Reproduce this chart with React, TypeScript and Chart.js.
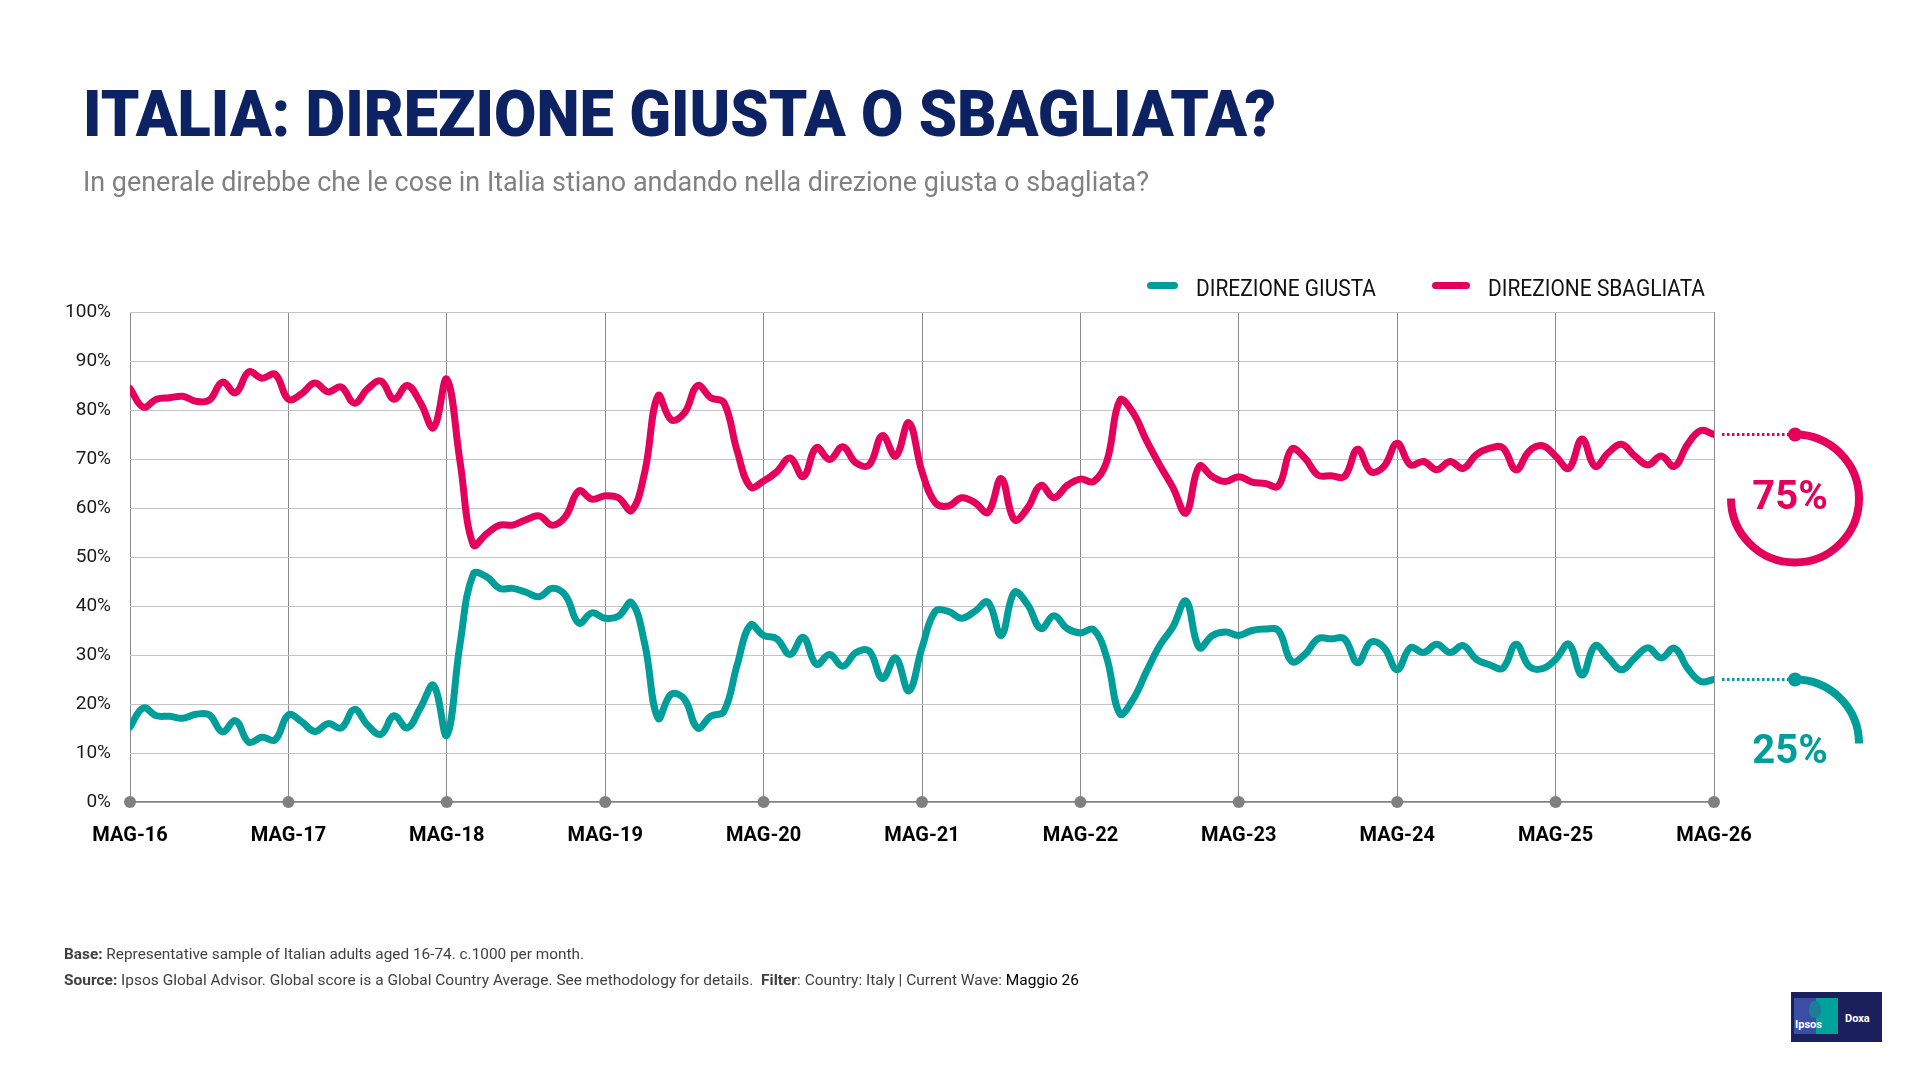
import React, { useEffect, useLayoutEffect, useRef } from 'react';
import { Chart, registerables } from 'chart.js';

Chart.register(...registerables);

// ---------- DATA ----------
const yearLabels = ['MAG-16', 'MAG-17', 'MAG-18', 'MAG-19', 'MAG-20', 'MAG-21', 'MAG-22', 'MAG-23', 'MAG-24', 'MAG-25', 'MAG-26'];
const monthsPerYear = 12;
const yTicks = [0, 10, 20, 30, 40, 50, 60, 70, 80, 90, 100];
const seriesNames = ['DIREZIONE GIUSTA', 'DIREZIONE SBAGLIATA'];

// Monthly values, May 2016 -> May 2026
const giusta = [
  15.3, 19.2, 17.6, 17.5, 17.1, 17.9, 17.8, 14.3, 16.6, 12.2, 13.2, 12.7,
  17.8, 16.4, 14.4, 16, 15.1, 18.9, 15.7, 13.8, 17.6, 15.1, 19.2, 23.8,
  13.6, 32.2, 46.5, 46, 43.6, 43.6, 42.8, 41.9, 43.6, 42.1, 36.5, 38.6,
  37.5, 37.9, 40.7, 32.2, 17.1, 22, 21, 15.1, 17.5, 18.5, 28, 36.1,
  34, 33.3, 30.1, 33.6, 28.1, 30.1, 27.7, 30.5, 30.8, 25.2, 29.4, 22.7,
  31.5, 38.9, 38.9, 37.5, 38.9, 40.8, 34, 42.8, 40.3, 35.4, 38, 35.4,
  34.5, 35.2, 29.4, 18, 21, 26.6, 31.9, 35.7, 41, 31.5, 34, 34.7,
  34, 35, 35.3, 35, 28.7, 30.1, 33.3, 33.3, 33.3, 28.4, 32.6, 31.5,
  27, 31.5, 30.5, 32.2, 30.5, 31.9, 29.1, 28, 27.3, 32.2, 27.7, 27.2,
  29.1, 32.2, 25.9, 31.9, 29.4, 27, 29.4, 31.5, 29.4, 31.4, 27.3, 24.6,
  25,
];
const sbagliata = [
  84.4, 80.6, 82.2, 82.5, 82.8, 81.8, 82, 85.7, 83.5, 87.8, 86.5, 87.3,
  82.2, 83.3, 85.5, 83.7, 84.7, 81.4, 84.3, 85.9, 82.2, 85, 81.5, 76.4,
  86.3, 69.5, 52.5, 54.7, 56.5, 56.5, 57.6, 58.4, 56.5, 58.3, 63.5, 61.8,
  62.5, 62.1, 59.5, 67.4, 82.9, 78, 79.4, 85, 82.5, 81.5, 71.6, 64.3,
  65.5, 67.4, 70.2, 66.4, 72.3, 69.9, 72.5, 69.2, 68.8, 74.8, 70.6, 77.4,
  67.4, 61.1, 60.4, 62.1, 61.1, 59.1, 66, 57.6, 60, 64.6, 62.1, 64.6,
  65.9, 65.4, 69.5, 82, 79.4, 73.8, 68.8, 64.2, 59, 68.5, 66.4, 65.4,
  66.4, 65.3, 65, 64.5, 72, 70.2, 66.7, 66.6, 66.4, 72, 67.4, 68.5,
  73.2, 68.8, 69.5, 67.8, 69.5, 68.1, 70.9, 72.2, 72.3, 67.8, 71.6, 72.7,
  70.6, 68.1, 74.1, 68.5, 71.3, 73, 70.6, 68.8, 70.6, 68.5, 73, 75.8,
  75,
];

// ---------- STYLE ----------
const TEAL = '#009e9a';
const PINK = '#e4005b';
const NAVY = '#0c2262';
const FONT = 'Roboto, "Noto Sans", sans-serif';

const decorPlugin = {
  id: 'decor',
  afterDraw(chart: any) {
    const { ctx, scales } = chart;
    const x = scales.x;
    const y = scales.y;
    ctx.save();
    // gray dots on the x axis at each year
    ctx.fillStyle = '#808080';
    for (let i = 0; i < yearLabels.length; i++) {
      const px = x.getPixelForValue(i * monthsPerYear);
      ctx.beginPath();
      ctx.arc(px, y.getPixelForValue(0), 6, 0, Math.PI * 2);
      ctx.fill();
    }
    // end-of-series annotations
    chart.data.datasets.forEach((ds: any) => {
      const last = ds.data[ds.data.length - 1];
      const color = ds.borderColor;
      const xp = x.getPixelForValue(last.x);
      const yp = y.getPixelForValue(last.y);
      const r = 64;
      const cx = xp + 81;
      const cy = yp + r;
      ctx.strokeStyle = color;
      ctx.fillStyle = color;
      // dotted connector
      ctx.setLineDash([2.5, 2.5]);
      ctx.lineWidth = 3;
      ctx.beginPath();
      ctx.moveTo(xp + 8, yp);
      ctx.lineTo(cx, yp);
      ctx.stroke();
      ctx.setLineDash([]);
      // dot
      ctx.beginPath();
      ctx.arc(cx, yp, 7, 0, Math.PI * 2);
      ctx.fill();
      // arc proportional to value
      ctx.lineWidth = 8;
      ctx.lineCap = 'butt';
      ctx.beginPath();
      ctx.arc(cx, cy, r, -Math.PI / 2, -Math.PI / 2 + (Math.PI * 2 * last.y) / 100);
      ctx.stroke();
      // value text
      ctx.font = `bold 40px ${FONT}`;
      ctx.textAlign = 'center';
      ctx.textBaseline = 'middle';
      const ty = last.y < 50 ? cy + 9 : cy;
      ctx.fillText(`${Math.round(last.y)}%`, cx - 5, ty);
    });
    ctx.restore();
  },
};

function LineChart() {
  const ref = useRef<HTMLCanvasElement>(null);
  useEffect(() => {
    const canvas = ref.current;
    if (!canvas) return;
    const chart = new Chart(canvas, {
      type: 'line',
      data: {
        datasets: [
          {
            label: seriesNames[0],
            data: giusta.map((v, i) => ({ x: i, y: v })),
            borderColor: TEAL,
            backgroundColor: TEAL,
          },
          {
            label: seriesNames[1],
            data: sbagliata.map((v, i) => ({ x: i, y: v })),
            borderColor: PINK,
            backgroundColor: PINK,
          },
        ],
      },
      options: {
        responsive: false,
        animation: false,
        devicePixelRatio: 1,
        layout: { padding: { left: 0, right: 206, top: 312, bottom: 218 } },
        plugins: { legend: { display: false }, tooltip: { enabled: false } },
        elements: {
          point: { radius: 0 },
          line: { tension: 0.4, borderWidth: 7, borderCapStyle: 'round', borderJoinStyle: 'round' },
        },
        scales: {
          x: {
            type: 'linear',
            min: 0,
            max: (yearLabels.length - 1) * monthsPerYear,
            ticks: {
              stepSize: monthsPerYear,
              autoSkip: false,
              maxRotation: 0,
              callback: (v: any) => yearLabels[Math.round(Number(v) / monthsPerYear)],
              font: { family: FONT, size: 20, weight: 'bold' },
              color: '#000',
              padding: 22,
            },
            grid: { color: '#8c8c8c', lineWidth: 1, drawTicks: false },
            border: { color: '#808080', width: 1.5 },
            afterFit: (s: any) => { s.height = 60; },
          },
          y: {
            min: yTicks[0],
            max: yTicks[yTicks.length - 1],
            ticks: {
              stepSize: 10,
              callback: (v: any) => `${v}%`,
              font: { family: FONT, size: 19 },
              color: '#1a1a1a',
              padding: 19,
            },
            grid: { color: '#c4c4c4', lineWidth: 1, drawTicks: false },
            border: { display: false },
            afterFit: (s: any) => { s.width = 130; },
          },
        },
      } as any,
      plugins: [decorPlugin],
    });
    return () => chart.destroy();
  }, []);
  return <canvas ref={ref} width={1920} height={1080} style={{ position: 'absolute', left: 0, top: 0 }} />;
}

function FitText({ width, style, children }: { width: number; style: React.CSSProperties; children: React.ReactNode }) {
  const ref = useRef<HTMLSpanElement>(null);
  useLayoutEffect(() => {
    const el = ref.current;
    if (!el) return;
    el.style.transform = 'none';
    const w = el.getBoundingClientRect().width;
    if (w > 0) el.style.transform = `scaleX(${width / w})`;
  }, [width]);
  return (
    <span
      ref={ref}
      style={{
        position: 'absolute',
        whiteSpace: 'nowrap',
        transformOrigin: 'left top',
        lineHeight: 1,
        display: 'inline-block',
        fontFamily: FONT,
        ...style,
      }}
    >
      {children}
    </span>
  );
}

export default function App() {
  return (
    <div style={{ position: 'absolute', left: 0, top: 0, width: 1920, height: 1080, background: '#fff', overflow: 'hidden' }}>
      <LineChart />
      <FitText width={1193} style={{ left: 83, top: 83, fontSize: 64, fontWeight: 900, color: NAVY }}>
        ITALIA: DIREZIONE GIUSTA O SBAGLIATA?
      </FitText>
      <FitText width={1066} style={{ left: 83, top: 168, fontSize: 28, color: '#808080' }}>
        In generale direbbe che le cose in Italia stiano andando nella direzione giusta o sbagliata?
      </FitText>

      {/* legend */}
      <div style={{ position: 'absolute', left: 1147, top: 282, width: 31, height: 7, borderRadius: 4, background: TEAL }} />
      <FitText width={180} style={{ left: 1196, top: 277, fontSize: 23, color: '#111' }}>
        {seriesNames[0]}
      </FitText>
      <div style={{ position: 'absolute', left: 1432, top: 282, width: 38, height: 7, borderRadius: 4, background: PINK }} />
      <FitText width={217} style={{ left: 1488, top: 277, fontSize: 23, color: '#111' }}>
        {seriesNames[1]}
      </FitText>

      {/* footer */}
      <FitText width={520} style={{ left: 64, top: 947, fontSize: 14, color: '#404040' }}>
        <b>Base:</b> Representative sample of Italian adults aged 16-74. c.1000 per month.
      </FitText>
      <FitText width={1015} style={{ left: 64, top: 973, fontSize: 14, color: '#404040' }}>
        <b>Source:</b> Ipsos Global Advisor. Global score is a Global Country Average. See methodology for details.{'\u00a0\u00a0'}<b>Filter</b>: Country: Italy | Current Wave: <span style={{ color: '#000' }}>Maggio 26</span>
      </FitText>

      {/* logo */}
      <div style={{ position: 'absolute', left: 1791, top: 992, width: 91, height: 50, background: '#1b1f5c' }}>
        <div style={{ position: 'absolute', left: 3, top: 6, width: 22, height: 36, background: '#3a4ea6' }} />
        <div style={{ position: 'absolute', left: 25, top: 6, width: 22, height: 36, background: '#00a39c' }} />
        <div style={{ position: 'absolute', left: 18, top: 9, width: 12, height: 17, borderRadius: '50% 50% 40% 40%', background: '#1b7f9a' }} />
        <span style={{ position: 'absolute', left: 4, top: 27, fontFamily: FONT, fontSize: 11, fontWeight: 700, color: '#fff', lineHeight: 1 }}>Ipsos</span>
        <span style={{ position: 'absolute', left: 54, top: 21, fontFamily: FONT, fontSize: 11, fontWeight: 700, color: '#fff', lineHeight: 1 }}>Doxa</span>
      </div>
    </div>
  );
}
